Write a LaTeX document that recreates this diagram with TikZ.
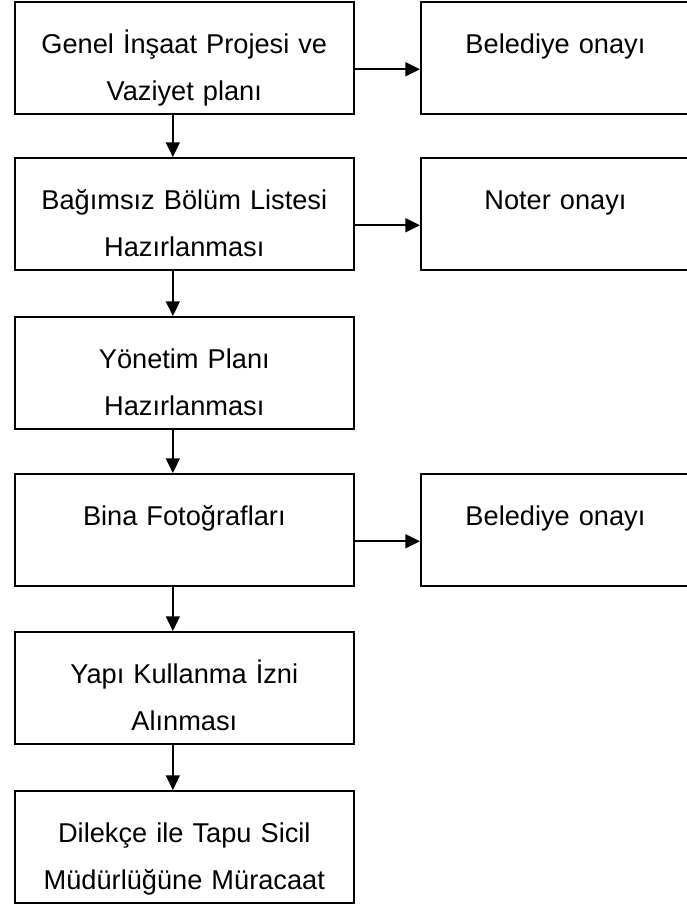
\documentclass[tikz,border=0pt]{standalone}
\usepackage{fontspec}
\setmainfont{Liberation Sans}
\usetikzlibrary{arrows.meta}

\begin{document}
\begin{tikzpicture}[x=0.75pt, y=-0.75pt]
    % --- 样式设置 ---
    \tikzstyle{kutu}=[draw, line width=1.2pt, inner sep=0pt, anchor=north west, align=center,
        font=\fontsize{20.4pt}{35.25pt}\selectfont, text height=39pt, text depth=45pt]
    \tikzstyle{solkutu}=[kutu, text width=254.25pt]
    \tikzstyle{sagkutu}=[kutu, text width=202pt]
    \tikzstyle{ok}=[-{Triangle[length=11pt, width=10.5pt]}, line width=1.2pt, black]

    % 0. 画布大小 (与原图比例一致)
    \useasboundingbox (0,0) rectangle (686,907);

    % 1. 左列方框 (流程步骤)
    \node[solkutu] (genel)    at (14,1)   {Genel İnşaat Projesi ve\\Vaziyet planı};
    \node[solkutu] (bagimsiz) at (14,157) {Bağımsız Bölüm Listesi\\Hazırlanması};
    \node[solkutu] (yonetim)  at (14,316) {Yönetim Planı\\Hazırlanması};
    \node[solkutu] (bina)     at (14,473) {Bina Fotoğrafları};
    \node[solkutu] (yapi)     at (14,631) {Yapı Kullanma İzni\\Alınması};
    \node[solkutu] (dilekce)  at (14,790) {Dilekçe ile Tapu Sicil\\Müdürlüğüne Müracaat};

    % 2. 右列方框 (审批, 右边缘超出画布)
    \node[sagkutu] (belediyeA) at (420,1)   {Belediye onayı};
    \node[sagkutu] (noter)     at (420,157) {Noter onayı};
    \node[sagkutu] (belediyeB) at (420,473) {Belediye onayı};

    % 3. 竖向箭头 (略偏左)
    \draw[ok] ([xshift=-8.6pt]genel.south)    -- ([xshift=-8.6pt]bagimsiz.north);
    \draw[ok] ([xshift=-8.6pt]bagimsiz.south) -- ([xshift=-8.6pt]yonetim.north);
    \draw[ok] ([xshift=-8.6pt]yonetim.south)  -- ([xshift=-8.6pt]bina.north);
    \draw[ok] ([xshift=-8.6pt]bina.south)     -- ([xshift=-8.6pt]yapi.north);
    \draw[ok] ([xshift=-8.6pt]yapi.south)     -- ([xshift=-8.6pt]dilekce.north);

    % 4. 横向箭头 (略偏下)
    \draw[ok] ([yshift=-8.6pt]genel.east)    -- ([yshift=-8.6pt]belediyeA.west);
    \draw[ok] ([yshift=-8.6pt]bagimsiz.east) -- ([yshift=-8.6pt]noter.west);
    \draw[ok] ([yshift=-8.6pt]bina.east)     -- ([yshift=-8.6pt]belediyeB.west);

\end{tikzpicture}
\end{document}
